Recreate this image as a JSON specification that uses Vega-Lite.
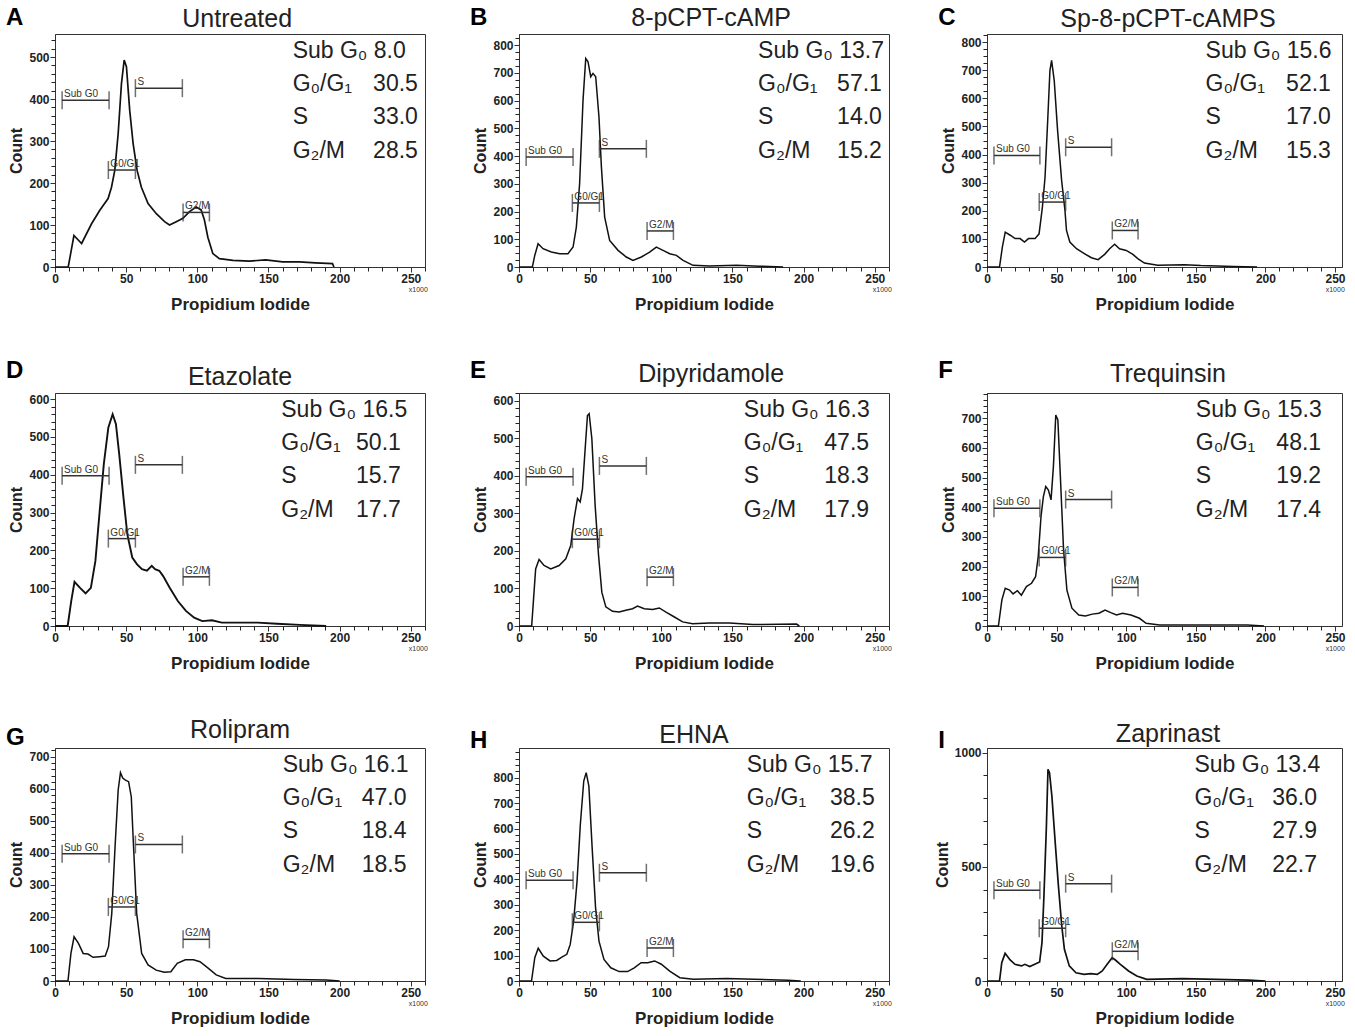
{
  "$schema": "https://vega.github.io/schema/vega-lite/v6.json",
  "background": "white",
  "padding": {"left": 5, "top": 5, "right": 0, "bottom": 2},
  "columns": 3,
  "spacing": {"row": 45, "column": 40},
  "config": {
    "font": "Liberation Sans",
    "view": {"stroke": "#333", "strokeWidth": 1},
    "axis": {"grid": false, "domainColor": "#333", "tickColor": "#333", "tickSize": 5, "labelFont": "Liberation Sans Narrow, Liberation Sans", "labelFontSize": 12, "labelFontWeight": "bold", "labelColor": "#222", "labelPadding": 1, "labelOverlap": false, "titleFont": "Liberation Sans", "titleFontSize": 17, "titleFontWeight": "bold", "titleColor": "#222"},
    "axisX": {"titlePadding": 12, "labelFlush": false},
    "axisY": {"titlePadding": 4, "titleFontSize": 16, "format": "d"},
    "text": {"font": "Liberation Sans", "color": "#222"}
  },
  "datasets": {
    "gates": [
      {"gate": "Sub G0", "x1": 5, "x2": 38, "y": 397},
      {"gate": "S", "x1": 56.5, "x2": 89.5, "y": 426},
      {"gate": "G0/G1", "x1": 37.5, "x2": 56.5, "y": 231},
      {"gate": "G2/M", "x1": 90, "x2": 108.5, "y": 130}
    ],
    "stats": [
      {"panel": "A", "line": 1, "label": "Sub G₀ 8.0", "value": ""},
      {"panel": "A", "line": 2, "label": "G₀/G₁", "value": "30.5"},
      {"panel": "A", "line": 3, "label": "S", "value": "33.0"},
      {"panel": "A", "line": 4, "label": "G₂/M", "value": "28.5"},
      {"panel": "B", "line": 1, "label": "Sub G₀ 13.7", "value": ""},
      {"panel": "B", "line": 2, "label": "G₀/G₁", "value": "57.1"},
      {"panel": "B", "line": 3, "label": "S", "value": "14.0"},
      {"panel": "B", "line": 4, "label": "G₂/M", "value": "15.2"},
      {"panel": "C", "line": 1, "label": "Sub G₀ 15.6", "value": ""},
      {"panel": "C", "line": 2, "label": "G₀/G₁", "value": "52.1"},
      {"panel": "C", "line": 3, "label": "S", "value": "17.0"},
      {"panel": "C", "line": 4, "label": "G₂/M", "value": "15.3"},
      {"panel": "D", "line": 1, "label": "Sub G₀ 16.5", "value": ""},
      {"panel": "D", "line": 2, "label": "G₀/G₁", "value": "50.1"},
      {"panel": "D", "line": 3, "label": "S", "value": "15.7"},
      {"panel": "D", "line": 4, "label": "G₂/M", "value": "17.7"},
      {"panel": "E", "line": 1, "label": "Sub G₀ 16.3", "value": ""},
      {"panel": "E", "line": 2, "label": "G₀/G₁", "value": "47.5"},
      {"panel": "E", "line": 3, "label": "S", "value": "18.3"},
      {"panel": "E", "line": 4, "label": "G₂/M", "value": "17.9"},
      {"panel": "F", "line": 1, "label": "Sub G₀ 15.3", "value": ""},
      {"panel": "F", "line": 2, "label": "G₀/G₁", "value": "48.1"},
      {"panel": "F", "line": 3, "label": "S", "value": "19.2"},
      {"panel": "F", "line": 4, "label": "G₂/M", "value": "17.4"},
      {"panel": "G", "line": 1, "label": "Sub G₀ 16.1", "value": ""},
      {"panel": "G", "line": 2, "label": "G₀/G₁", "value": "47.0"},
      {"panel": "G", "line": 3, "label": "S", "value": "18.4"},
      {"panel": "G", "line": 4, "label": "G₂/M", "value": "18.5"},
      {"panel": "H", "line": 1, "label": "Sub G₀ 15.7", "value": ""},
      {"panel": "H", "line": 2, "label": "G₀/G₁", "value": "38.5"},
      {"panel": "H", "line": 3, "label": "S", "value": "26.2"},
      {"panel": "H", "line": 4, "label": "G₂/M", "value": "19.6"},
      {"panel": "I", "line": 1, "label": "Sub G₀ 13.4", "value": ""},
      {"panel": "I", "line": 2, "label": "G₀/G₁", "value": "36.0"},
      {"panel": "I", "line": 3, "label": "S", "value": "27.9"},
      {"panel": "I", "line": 4, "label": "G₂/M", "value": "22.7"}
    ],
    "untreated": [
      {"pi": 0, "count": 0}, {"pi": 9.3, "count": 0}, {"pi": 13.3, "count": 75}, {"pi": 18.7, "count": 56}, {"pi": 25.7, "count": 103}, {"pi": 31.5, "count": 135}, {"pi": 37.3, "count": 163}, {"pi": 39.7, "count": 190}, {"pi": 42, "count": 230}, {"pi": 44.4, "count": 318}, {"pi": 46.7, "count": 437}, {"pi": 48.6, "count": 493}, {"pi": 50.2, "count": 477}, {"pi": 52.5, "count": 373}, {"pi": 54.9, "count": 294}, {"pi": 57.7, "count": 230}, {"pi": 60.7, "count": 190}, {"pi": 65.4, "count": 151}, {"pi": 71.2, "count": 127}, {"pi": 77, "count": 108}, {"pi": 80.5, "count": 100}, {"pi": 85.2, "count": 108}, {"pi": 89.9, "count": 116}, {"pi": 94.5, "count": 132}, {"pi": 99.2, "count": 143}, {"pi": 102.7, "count": 136}, {"pi": 105, "count": 112}, {"pi": 107.4, "count": 71}, {"pi": 110.9, "count": 32}, {"pi": 115.5, "count": 20}, {"pi": 125, "count": 16}, {"pi": 136.6, "count": 14}, {"pi": 148, "count": 17}, {"pi": 160, "count": 12}, {"pi": 171.6, "count": 12}, {"pi": 183, "count": 10}, {"pi": 195, "count": 8}, {"pi": 196, "count": 0}
    ],
    "cpt": [
      {"pi": 0, "count": 0}, {"pi": 9.4, "count": 0}, {"pi": 11, "count": 40}, {"pi": 13.4, "count": 84}, {"pi": 16.9, "count": 66}, {"pi": 22.7, "count": 54}, {"pi": 28.6, "count": 48}, {"pi": 34.4, "count": 48}, {"pi": 38, "count": 72}, {"pi": 40.3, "count": 144}, {"pi": 42.6, "count": 301}, {"pi": 45, "count": 602}, {"pi": 46.9, "count": 752}, {"pi": 48.5, "count": 740}, {"pi": 50.4, "count": 686}, {"pi": 52, "count": 698}, {"pi": 53.9, "count": 686}, {"pi": 56.2, "count": 541}, {"pi": 57.9, "count": 361}, {"pi": 60.2, "count": 180}, {"pi": 63.7, "count": 96}, {"pi": 69.6, "count": 60}, {"pi": 75.4, "count": 36}, {"pi": 80.1, "count": 24}, {"pi": 86, "count": 36}, {"pi": 91.8, "count": 54}, {"pi": 96.5, "count": 72}, {"pi": 101.2, "count": 60}, {"pi": 105.9, "count": 48}, {"pi": 110.6, "count": 42}, {"pi": 115.3, "count": 24}, {"pi": 122.3, "count": 6}, {"pi": 134, "count": 4}, {"pi": 152.8, "count": 6}, {"pi": 169, "count": 3}, {"pi": 185.6, "count": 0}
    ],
    "sp": [
      {"pi": 0, "count": 0}, {"pi": 9, "count": 0}, {"pi": 11, "count": 70}, {"pi": 13.1, "count": 124}, {"pi": 16.7, "count": 113}, {"pi": 20.2, "count": 101}, {"pi": 23.8, "count": 101}, {"pi": 26.9, "count": 89}, {"pi": 29.8, "count": 101}, {"pi": 34.5, "count": 101}, {"pi": 37.4, "count": 118}, {"pi": 39.8, "count": 213}, {"pi": 41.7, "count": 320}, {"pi": 43.6, "count": 521}, {"pi": 45.2, "count": 699}, {"pi": 46.4, "count": 735}, {"pi": 48.3, "count": 663}, {"pi": 50.7, "count": 486}, {"pi": 53.6, "count": 308}, {"pi": 56, "count": 201}, {"pi": 57.1, "count": 130}, {"pi": 59.5, "count": 89}, {"pi": 64.3, "count": 65}, {"pi": 70.2, "count": 47}, {"pi": 75, "count": 33}, {"pi": 79.8, "count": 26}, {"pi": 84.5, "count": 45}, {"pi": 88.1, "count": 65}, {"pi": 91.7, "count": 81}, {"pi": 95.2, "count": 65}, {"pi": 100, "count": 59}, {"pi": 104.8, "count": 45}, {"pi": 108.3, "count": 30}, {"pi": 113.1, "count": 14}, {"pi": 122.6, "count": 6}, {"pi": 141.7, "count": 8}, {"pi": 153.6, "count": 5}, {"pi": 177, "count": 2}, {"pi": 194, "count": 0}
    ],
    "etazolate": [
      {"pi": 0, "count": 0}, {"pi": 8.9, "count": 0}, {"pi": 11.4, "count": 66}, {"pi": 13.7, "count": 117}, {"pi": 17.6, "count": 101}, {"pi": 21.5, "count": 86}, {"pi": 25.2, "count": 101}, {"pi": 28.4, "count": 172}, {"pi": 31.4, "count": 304}, {"pi": 34.3, "count": 428}, {"pi": 37.5, "count": 525}, {"pi": 40.5, "count": 560}, {"pi": 42.8, "count": 534}, {"pi": 45.1, "count": 455}, {"pi": 48.1, "count": 340}, {"pi": 50.8, "count": 243}, {"pi": 54.3, "count": 181}, {"pi": 57.7, "count": 163}, {"pi": 61.1, "count": 150}, {"pi": 64.6, "count": 146}, {"pi": 68, "count": 159}, {"pi": 70.3, "count": 150}, {"pi": 73.3, "count": 146}, {"pi": 76, "count": 132}, {"pi": 80.6, "count": 101}, {"pi": 86.3, "count": 66}, {"pi": 92, "count": 40}, {"pi": 97.8, "count": 22}, {"pi": 103.5, "count": 13}, {"pi": 110.3, "count": 15}, {"pi": 117.2, "count": 9}, {"pi": 126.4, "count": 9}, {"pi": 142.4, "count": 9}, {"pi": 156, "count": 6}, {"pi": 172, "count": 3}, {"pi": 190.5, "count": 0}
    ],
    "dipyridamole": [
      {"pi": 0, "count": 0}, {"pi": 8.9, "count": 0}, {"pi": 11.7, "count": 152}, {"pi": 14.1, "count": 177}, {"pi": 17.6, "count": 161}, {"pi": 22.3, "count": 152}, {"pi": 28.2, "count": 161}, {"pi": 32.9, "count": 179}, {"pi": 36.4, "count": 215}, {"pi": 38.7, "count": 285}, {"pi": 41.1, "count": 339}, {"pi": 43, "count": 330}, {"pi": 44.6, "count": 365}, {"pi": 46.5, "count": 472}, {"pi": 48.1, "count": 560}, {"pi": 49.3, "count": 565}, {"pi": 51.2, "count": 498}, {"pi": 53.5, "count": 321}, {"pi": 55.9, "count": 188}, {"pi": 58.2, "count": 90}, {"pi": 61, "count": 51}, {"pi": 65.7, "count": 39}, {"pi": 70.4, "count": 37}, {"pi": 75.1, "count": 42}, {"pi": 79.8, "count": 46}, {"pi": 83.3, "count": 53}, {"pi": 88, "count": 46}, {"pi": 93.9, "count": 44}, {"pi": 98.6, "count": 48}, {"pi": 103.3, "count": 37}, {"pi": 109.2, "count": 24}, {"pi": 115, "count": 11}, {"pi": 122, "count": 6}, {"pi": 133.8, "count": 8}, {"pi": 147.9, "count": 8}, {"pi": 164.3, "count": 4}, {"pi": 195, "count": 5}, {"pi": 197, "count": 0}
    ],
    "trequinsin": [
      {"pi": 0, "count": 0}, {"pi": 8.2, "count": 0}, {"pi": 10.7, "count": 88}, {"pi": 13.1, "count": 127}, {"pi": 16.2, "count": 121}, {"pi": 18.7, "count": 108}, {"pi": 21.8, "count": 119}, {"pi": 24.7, "count": 104}, {"pi": 28.3, "count": 133}, {"pi": 32, "count": 144}, {"pi": 34.9, "count": 166}, {"pi": 36.8, "count": 234}, {"pi": 38.8, "count": 369}, {"pi": 40.5, "count": 436}, {"pi": 42.2, "count": 470}, {"pi": 44.1, "count": 458}, {"pi": 46, "count": 425}, {"pi": 47.7, "count": 537}, {"pi": 49.4, "count": 711}, {"pi": 50.9, "count": 694}, {"pi": 52.6, "count": 515}, {"pi": 55, "count": 256}, {"pi": 57.4, "count": 121}, {"pi": 61, "count": 60}, {"pi": 65.9, "count": 37}, {"pi": 70.7, "count": 34}, {"pi": 75.6, "count": 40}, {"pi": 80.4, "count": 43}, {"pi": 84.8, "count": 54}, {"pi": 88.9, "count": 45}, {"pi": 93, "count": 37}, {"pi": 97.4, "count": 43}, {"pi": 103.4, "count": 37}, {"pi": 109.5, "count": 26}, {"pi": 114.3, "count": 9}, {"pi": 124, "count": 3}, {"pi": 150.7, "count": 3}, {"pi": 187, "count": 3}, {"pi": 199, "count": 0}
    ],
    "rolipram": [
      {"pi": 0, "count": 0}, {"pi": 9.1, "count": 0}, {"pi": 11.2, "count": 86}, {"pi": 13.4, "count": 138}, {"pi": 16.4, "count": 118}, {"pi": 19.8, "count": 86}, {"pi": 23.2, "count": 84}, {"pi": 26.7, "count": 74}, {"pi": 31.2, "count": 76}, {"pi": 35.3, "count": 78}, {"pi": 37.6, "count": 107}, {"pi": 39.9, "count": 211}, {"pi": 42.2, "count": 419}, {"pi": 44.4, "count": 596}, {"pi": 46, "count": 650}, {"pi": 47.6, "count": 633}, {"pi": 49.5, "count": 627}, {"pi": 51.7, "count": 622}, {"pi": 53.6, "count": 575}, {"pi": 55.2, "count": 419}, {"pi": 57.4, "count": 211}, {"pi": 60.9, "count": 86}, {"pi": 65.4, "count": 50}, {"pi": 71.1, "count": 34}, {"pi": 76.8, "count": 27}, {"pi": 81.4, "count": 29}, {"pi": 85.9, "count": 55}, {"pi": 91.6, "count": 66}, {"pi": 97.3, "count": 66}, {"pi": 101.9, "count": 60}, {"pi": 107.6, "count": 40}, {"pi": 113.3, "count": 19}, {"pi": 120, "count": 8}, {"pi": 142.9, "count": 8}, {"pi": 168, "count": 5}, {"pi": 190.7, "count": 3}, {"pi": 200, "count": 0}
    ],
    "ehna": [
      {"pi": 0, "count": 0}, {"pi": 8.8, "count": 0}, {"pi": 11.1, "count": 92}, {"pi": 13.5, "count": 129}, {"pi": 17.1, "count": 98}, {"pi": 21.8, "count": 79}, {"pi": 26.5, "count": 81}, {"pi": 30.1, "count": 94}, {"pi": 33.6, "count": 105}, {"pi": 36, "count": 144}, {"pi": 38.4, "count": 236}, {"pi": 40.8, "count": 393}, {"pi": 43.1, "count": 616}, {"pi": 45.5, "count": 787}, {"pi": 47.2, "count": 820}, {"pi": 49.1, "count": 767}, {"pi": 51.4, "count": 525}, {"pi": 53.8, "count": 289}, {"pi": 56.2, "count": 157}, {"pi": 59.7, "count": 85}, {"pi": 64.5, "count": 52}, {"pi": 70.4, "count": 37}, {"pi": 76.3, "count": 37}, {"pi": 81, "count": 52}, {"pi": 85.8, "count": 72}, {"pi": 90.5, "count": 72}, {"pi": 95.3, "count": 79}, {"pi": 100, "count": 66}, {"pi": 105.9, "count": 39}, {"pi": 113, "count": 13}, {"pi": 122.5, "count": 7}, {"pi": 146, "count": 10}, {"pi": 165, "count": 7}, {"pi": 189, "count": 3}, {"pi": 198, "count": 0}
    ],
    "zaprinast": [
      {"pi": 0, "count": 0}, {"pi": 9, "count": 0}, {"pi": 10.6, "count": 80}, {"pi": 13, "count": 121}, {"pi": 16.6, "count": 92}, {"pi": 20.1, "count": 73}, {"pi": 24.8, "count": 66}, {"pi": 27.2, "count": 73}, {"pi": 30.7, "count": 63}, {"pi": 34.3, "count": 73}, {"pi": 37.8, "count": 83}, {"pi": 39.5, "count": 168}, {"pi": 40.9, "count": 372}, {"pi": 42.6, "count": 664}, {"pi": 43.8, "count": 927}, {"pi": 44.9, "count": 912}, {"pi": 46.6, "count": 810}, {"pi": 49, "count": 606}, {"pi": 51.3, "count": 416}, {"pi": 53.7, "count": 241}, {"pi": 55.6, "count": 139}, {"pi": 59.1, "count": 66}, {"pi": 63.9, "count": 36}, {"pi": 69.8, "count": 29}, {"pi": 74.5, "count": 32}, {"pi": 79.2, "count": 29}, {"pi": 82.8, "count": 44}, {"pi": 86.3, "count": 73}, {"pi": 89.9, "count": 102}, {"pi": 92.2, "count": 92}, {"pi": 95.8, "count": 73}, {"pi": 101.7, "count": 44}, {"pi": 107.6, "count": 22}, {"pi": 114.7, "count": 7}, {"pi": 140.7, "count": 10}, {"pi": 164.4, "count": 7}, {"pi": 188, "count": 4}, {"pi": 200, "count": 0}
    ]
  },
  "concat": [
    {
      "width": 370, "height": 233,
      "layer": [
        {"layer": [
          {"data": {"name": "untreated"}, "mark": {"type": "line", "color": "#111", "strokeWidth": 1.7},
           "encoding": {
             "x": {"field": "pi", "type": "quantitative", "scale": {"domain": [0, 260], "nice": false}, "axis": {"orient": "bottom", "title": "Propidium Iodide", "values": [0, 50, 100, 150, 200, 250]}},
             "y": {"field": "count", "type": "quantitative", "scale": {"domain": [0, 555], "nice": false}, "axis": {"orient": "left", "title": "Count", "values": [0, 100, 200, 300, 400, 500]}}}},
          {"data": {"name": "gates"}, "mark": {"type": "rule", "color": "#333", "strokeWidth": 1.5},
           "encoding": {
             "x": {"field": "x1", "type": "quantitative", "axis": {"orient": "bottom", "title": null, "labels": false, "domain": false, "tickSize": 4, "tickColor": "#222", "values": [10,20,30,40,60,70,80,90,110,120,130,140,160,170,180,190,210,220,230,240,260]}},
             "x2": {"field": "x2"},
             "y": {"field": "y", "type": "quantitative", "axis": {"orient": "left", "title": null, "labels": false, "domain": false, "tickSize": 4, "tickColor": "#222", "values": [20,40,60,80,120,140,160,180,220,240,260,280,320,340,360,380,420,440,460,480,520,540]}}}},
          {"data": {"name": "gates"}, "transform": [{"fold": ["x1", "x2"], "as": ["end", "pos"]}], "mark": {"type": "tick", "orient": "vertical", "size": 18, "thickness": 1.5, "color": "#333"},
           "encoding": {"x": {"field": "pos", "type": "quantitative", "axis": null}, "y": {"field": "y", "type": "quantitative", "axis": null}}},
          {"data": {"name": "gates"}, "mark": {"type": "text", "align": "left", "baseline": "bottom", "dx": 2, "dy": -1, "fontSize": 10, "color": "#333"},
           "encoding": {"x": {"field": "x1", "type": "quantitative", "axis": null}, "y": {"field": "y", "type": "quantitative", "axis": null}, "text": {"field": "gate"}}},
          {"data": {"values": [{"letter": "A"}]}, "mark": {"type": "text", "align": "left", "baseline": "alphabetic", "fontSize": 24, "fontWeight": "bold", "color": "#000"},
           "encoding": {"x": {"datum": -34.5, "type": "quantitative", "axis": null}, "y": {"datum": 576, "type": "quantitative", "axis": null}, "text": {"field": "letter"}}},
          {"data": {"values": [{"name": "Untreated"}]}, "mark": {"type": "text", "align": "center", "baseline": "alphabetic", "fontSize": 25},
           "encoding": {"x": {"datum": 128, "type": "quantitative", "axis": null}, "y": {"datum": 572, "type": "quantitative", "axis": null}, "text": {"field": "name"}}},
          {"data": {"values": [{"unit": "x1000"}]}, "mark": {"type": "text", "align": "right", "baseline": "bottom", "fontSize": 7, "color": "#333"},
           "encoding": {"x": {"datum": 262, "type": "quantitative", "axis": null}, "y": {"datum": -62, "type": "quantitative", "axis": null}, "text": {"field": "unit"}}}
        ], "resolve": {"axis": {"x": "independent", "y": "independent"}}},
        {"data": {"name": "stats"}, "transform": [{"filter": "datum.panel === 'A'"}], "layer": [
          {"mark": {"type": "text", "align": "left", "fontSize": 23},
           "encoding": {"x": {"datum": 167, "type": "quantitative", "axis": null}, "y": {"field": "line", "type": "ordinal", "scale": {"domain": [1, 2, 3, 4, 5, 6, 7]}, "axis": null}, "text": {"field": "label"}}},
          {"mark": {"type": "text", "align": "right", "fontSize": 23},
           "encoding": {"x": {"datum": 255, "type": "quantitative", "axis": null}, "y": {"field": "line", "type": "ordinal", "axis": null}, "text": {"field": "value"}}}
        ]}
      ],
      "resolve": {"scale": {"y": "independent"}}
    },
    {
      "width": 370, "height": 233,
      "layer": [
        {"layer": [
          {"data": {"name": "cpt"}, "mark": {"type": "line", "color": "#111", "strokeWidth": 1.5},
           "encoding": {
             "x": {"field": "pi", "type": "quantitative", "scale": {"domain": [0, 260], "nice": false}, "axis": {"orient": "bottom", "title": "Propidium Iodide", "values": [0, 50, 100, 150, 200, 250]}},
             "y": {"field": "count", "type": "quantitative", "scale": {"domain": [0, 840], "nice": false}, "axis": {"orient": "left", "title": "Count", "values": [0, 100, 200, 300, 400, 500, 600, 700, 800]}}}},
          {"data": {"name": "gates"}, "mark": {"type": "rule", "color": "#333", "strokeWidth": 1.5},
           "encoding": {
             "x": {"field": "x1", "type": "quantitative", "axis": {"orient": "bottom", "title": null, "labels": false, "domain": false, "tickSize": 4, "tickColor": "#222", "values": [10,20,30,40,60,70,80,90,110,120,130,140,160,170,180,190,210,220,230,240,260]}},
             "x2": {"field": "x2"},
             "y": {"field": "y", "type": "quantitative", "axis": {"orient": "left", "title": null, "labels": false, "domain": false, "tickSize": 4, "tickColor": "#222", "values": [25,50,75,125,150,175,225,250,275,325,350,375,425,450,475,525,550,575,625,650,675,725,750,775,825]}}}},
          {"data": {"name": "gates"}, "transform": [{"fold": ["x1", "x2"], "as": ["end", "pos"]}], "mark": {"type": "tick", "orient": "vertical", "size": 18, "thickness": 1.5, "color": "#333"},
           "encoding": {"x": {"field": "pos", "type": "quantitative", "axis": null}, "y": {"field": "y", "type": "quantitative", "axis": null}}},
          {"data": {"name": "gates"}, "mark": {"type": "text", "align": "left", "baseline": "bottom", "dx": 2, "dy": -1, "fontSize": 10, "color": "#333"},
           "encoding": {"x": {"field": "x1", "type": "quantitative", "axis": null}, "y": {"field": "y", "type": "quantitative", "axis": null}, "text": {"field": "gate"}}},
          {"data": {"values": [{"letter": "B"}]}, "mark": {"type": "text", "align": "left", "baseline": "alphabetic", "fontSize": 24, "fontWeight": "bold", "color": "#000"},
           "encoding": {"x": {"datum": -34.5, "type": "quantitative", "axis": null}, "y": {"datum": 872, "type": "quantitative", "axis": null}, "text": {"field": "letter"}}},
          {"data": {"values": [{"name": "8-pCPT-cAMP"}]}, "mark": {"type": "text", "align": "center", "baseline": "alphabetic", "fontSize": 25},
           "encoding": {"x": {"datum": 135, "type": "quantitative", "axis": null}, "y": {"datum": 869, "type": "quantitative", "axis": null}, "text": {"field": "name"}}},
          {"data": {"values": [{"unit": "x1000"}]}, "mark": {"type": "text", "align": "right", "baseline": "bottom", "fontSize": 7, "color": "#333"},
           "encoding": {"x": {"datum": 262, "type": "quantitative", "axis": null}, "y": {"datum": -94, "type": "quantitative", "axis": null}, "text": {"field": "unit"}}}
        ], "resolve": {"axis": {"x": "independent", "y": "independent"}}},
        {"data": {"name": "stats"}, "transform": [{"filter": "datum.panel === 'B'"}], "layer": [
          {"mark": {"type": "text", "align": "left", "fontSize": 23},
           "encoding": {"x": {"datum": 168, "type": "quantitative", "axis": null}, "y": {"field": "line", "type": "ordinal", "scale": {"domain": [1, 2, 3, 4, 5, 6, 7]}, "axis": null}, "text": {"field": "label"}}},
          {"mark": {"type": "text", "align": "right", "fontSize": 23},
           "encoding": {"x": {"datum": 255, "type": "quantitative", "axis": null}, "y": {"field": "line", "type": "ordinal", "axis": null}, "text": {"field": "value"}}}
        ]}
      ],
      "resolve": {"scale": {"y": "independent"}}
    },
    {
      "width": 355, "height": 233,
      "layer": [
        {"layer": [
          {"data": {"name": "sp"}, "mark": {"type": "line", "color": "#111", "strokeWidth": 1.5},
           "encoding": {
             "x": {"field": "pi", "type": "quantitative", "scale": {"domain": [0, 255], "nice": false}, "axis": {"orient": "bottom", "title": "Propidium Iodide", "values": [0, 50, 100, 150, 200, 250]}},
             "y": {"field": "count", "type": "quantitative", "scale": {"domain": [0, 829], "nice": false}, "axis": {"orient": "left", "title": "Count", "values": [0, 100, 200, 300, 400, 500, 600, 700, 800]}}}},
          {"data": {"name": "gates"}, "mark": {"type": "rule", "color": "#333", "strokeWidth": 1.5},
           "encoding": {
             "x": {"field": "x1", "type": "quantitative", "axis": {"orient": "bottom", "title": null, "labels": false, "domain": false, "tickSize": 4, "tickColor": "#222", "values": [10,20,30,40,60,70,80,90,110,120,130,140,160,170,180,190,210,220,230,240]}},
             "x2": {"field": "x2"},
             "y": {"field": "y", "type": "quantitative", "axis": {"orient": "left", "title": null, "labels": false, "domain": false, "tickSize": 4, "tickColor": "#222", "values": [25,50,75,125,150,175,225,250,275,325,350,375,425,450,475,525,550,575,625,650,675,725,750,775,825]}}}},
          {"data": {"name": "gates"}, "transform": [{"fold": ["x1", "x2"], "as": ["end", "pos"]}], "mark": {"type": "tick", "orient": "vertical", "size": 18, "thickness": 1.5, "color": "#333"},
           "encoding": {"x": {"field": "pos", "type": "quantitative", "axis": null}, "y": {"field": "y", "type": "quantitative", "axis": null}}},
          {"data": {"name": "gates"}, "mark": {"type": "text", "align": "left", "baseline": "bottom", "dx": 2, "dy": -1, "fontSize": 10, "color": "#333"},
           "encoding": {"x": {"field": "x1", "type": "quantitative", "axis": null}, "y": {"field": "y", "type": "quantitative", "axis": null}, "text": {"field": "gate"}}},
          {"data": {"values": [{"letter": "C"}]}, "mark": {"type": "text", "align": "left", "baseline": "alphabetic", "fontSize": 24, "fontWeight": "bold", "color": "#000"},
           "encoding": {"x": {"datum": -35, "type": "quantitative", "axis": null}, "y": {"datum": 861, "type": "quantitative", "axis": null}, "text": {"field": "letter"}}},
          {"data": {"values": [{"name": "Sp-8-pCPT-cAMPS"}]}, "mark": {"type": "text", "align": "center", "baseline": "alphabetic", "fontSize": 25},
           "encoding": {"x": {"datum": 130, "type": "quantitative", "axis": null}, "y": {"datum": 854, "type": "quantitative", "axis": null}, "text": {"field": "name"}}},
          {"data": {"values": [{"unit": "x1000"}]}, "mark": {"type": "text", "align": "right", "baseline": "bottom", "fontSize": 7, "color": "#333"},
           "encoding": {"x": {"datum": 257, "type": "quantitative", "axis": null}, "y": {"datum": -93, "type": "quantitative", "axis": null}, "text": {"field": "unit"}}}
        ], "resolve": {"axis": {"x": "independent", "y": "independent"}}},
        {"data": {"name": "stats"}, "transform": [{"filter": "datum.panel === 'C'"}], "layer": [
          {"mark": {"type": "text", "align": "left", "fontSize": 23},
           "encoding": {"x": {"datum": 157, "type": "quantitative", "axis": null}, "y": {"field": "line", "type": "ordinal", "scale": {"domain": [1, 2, 3, 4, 5, 6, 7]}, "axis": null}, "text": {"field": "label"}}},
          {"mark": {"type": "text", "align": "right", "fontSize": 23},
           "encoding": {"x": {"datum": 247, "type": "quantitative", "axis": null}, "y": {"field": "line", "type": "ordinal", "axis": null}, "text": {"field": "value"}}}
        ]}
      ],
      "resolve": {"scale": {"y": "independent"}}
    },
    {
      "width": 370, "height": 233,
      "layer": [
        {"layer": [
          {"data": {"name": "etazolate"}, "mark": {"type": "line", "color": "#111", "strokeWidth": 1.9},
           "encoding": {
             "x": {"field": "pi", "type": "quantitative", "scale": {"domain": [0, 260], "nice": false}, "axis": {"orient": "bottom", "title": "Propidium Iodide", "values": [0, 50, 100, 150, 200, 250]}},
             "y": {"field": "count", "type": "quantitative", "scale": {"domain": [0, 616], "nice": false}, "axis": {"orient": "left", "title": "Count", "values": [0, 100, 200, 300, 400, 500, 600]}}}},
          {"data": {"name": "gates"}, "mark": {"type": "rule", "color": "#333", "strokeWidth": 1.5},
           "encoding": {
             "x": {"field": "x1", "type": "quantitative", "axis": {"orient": "bottom", "title": null, "labels": false, "domain": false, "tickSize": 4, "tickColor": "#222", "values": [10,20,30,40,60,70,80,90,110,120,130,140,160,170,180,190,210,220,230,240,260]}},
             "x2": {"field": "x2"},
             "y": {"field": "y", "type": "quantitative", "axis": {"orient": "left", "title": null, "labels": false, "domain": false, "tickSize": 4, "tickColor": "#222", "values": [20,40,60,80,120,140,160,180,220,240,260,280,320,340,360,380,420,440,460,480,520,540,560,580]}}}},
          {"data": {"name": "gates"}, "transform": [{"fold": ["x1", "x2"], "as": ["end", "pos"]}], "mark": {"type": "tick", "orient": "vertical", "size": 18, "thickness": 1.5, "color": "#333"},
           "encoding": {"x": {"field": "pos", "type": "quantitative", "axis": null}, "y": {"field": "y", "type": "quantitative", "axis": null}}},
          {"data": {"name": "gates"}, "mark": {"type": "text", "align": "left", "baseline": "bottom", "dx": 2, "dy": -1, "fontSize": 10, "color": "#333"},
           "encoding": {"x": {"field": "x1", "type": "quantitative", "axis": null}, "y": {"field": "y", "type": "quantitative", "axis": null}, "text": {"field": "gate"}}},
          {"data": {"values": [{"letter": "D"}]}, "mark": {"type": "text", "align": "left", "baseline": "alphabetic", "fontSize": 24, "fontWeight": "bold", "color": "#000"},
           "encoding": {"x": {"datum": -34.5, "type": "quantitative", "axis": null}, "y": {"datum": 656, "type": "quantitative", "axis": null}, "text": {"field": "letter"}}},
          {"data": {"values": [{"name": "Etazolate"}]}, "mark": {"type": "text", "align": "center", "baseline": "alphabetic", "fontSize": 25},
           "encoding": {"x": {"datum": 130, "type": "quantitative", "axis": null}, "y": {"datum": 637, "type": "quantitative", "axis": null}, "text": {"field": "name"}}},
          {"data": {"values": [{"unit": "x1000"}]}, "mark": {"type": "text", "align": "right", "baseline": "bottom", "fontSize": 7, "color": "#333"},
           "encoding": {"x": {"datum": 262, "type": "quantitative", "axis": null}, "y": {"datum": -69, "type": "quantitative", "axis": null}, "text": {"field": "unit"}}}
        ], "resolve": {"axis": {"x": "independent", "y": "independent"}}},
        {"data": {"name": "stats"}, "transform": [{"filter": "datum.panel === 'D'"}], "layer": [
          {"mark": {"type": "text", "align": "left", "fontSize": 23},
           "encoding": {"x": {"datum": 159, "type": "quantitative", "axis": null}, "y": {"field": "line", "type": "ordinal", "scale": {"domain": [1, 2, 3, 4, 5, 6, 7]}, "axis": null}, "text": {"field": "label"}}},
          {"mark": {"type": "text", "align": "right", "fontSize": 23},
           "encoding": {"x": {"datum": 243, "type": "quantitative", "axis": null}, "y": {"field": "line", "type": "ordinal", "axis": null}, "text": {"field": "value"}}}
        ]}
      ],
      "resolve": {"scale": {"y": "independent"}}
    },
    {
      "width": 370, "height": 233,
      "layer": [
        {"layer": [
          {"data": {"name": "dipyridamole"}, "mark": {"type": "line", "color": "#111", "strokeWidth": 1.5},
           "encoding": {
             "x": {"field": "pi", "type": "quantitative", "scale": {"domain": [0, 260], "nice": false}, "axis": {"orient": "bottom", "title": "Propidium Iodide", "values": [0, 50, 100, 150, 200, 250]}},
             "y": {"field": "count", "type": "quantitative", "scale": {"domain": [0, 620], "nice": false}, "axis": {"orient": "left", "title": "Count", "values": [0, 100, 200, 300, 400, 500, 600]}}}},
          {"data": {"name": "gates"}, "mark": {"type": "rule", "color": "#333", "strokeWidth": 1.5},
           "encoding": {
             "x": {"field": "x1", "type": "quantitative", "axis": {"orient": "bottom", "title": null, "labels": false, "domain": false, "tickSize": 4, "tickColor": "#222", "values": [10,20,30,40,60,70,80,90,110,120,130,140,160,170,180,190,210,220,230,240,260]}},
             "x2": {"field": "x2"},
             "y": {"field": "y", "type": "quantitative", "axis": {"orient": "left", "title": null, "labels": false, "domain": false, "tickSize": 4, "tickColor": "#222", "values": [20,40,60,80,120,140,160,180,220,240,260,280,320,340,360,380,420,440,460,480,520,540,560,580,620]}}}},
          {"data": {"name": "gates"}, "transform": [{"fold": ["x1", "x2"], "as": ["end", "pos"]}], "mark": {"type": "tick", "orient": "vertical", "size": 18, "thickness": 1.5, "color": "#333"},
           "encoding": {"x": {"field": "pos", "type": "quantitative", "axis": null}, "y": {"field": "y", "type": "quantitative", "axis": null}}},
          {"data": {"name": "gates"}, "mark": {"type": "text", "align": "left", "baseline": "bottom", "dx": 2, "dy": -1, "fontSize": 10, "color": "#333"},
           "encoding": {"x": {"field": "x1", "type": "quantitative", "axis": null}, "y": {"field": "y", "type": "quantitative", "axis": null}, "text": {"field": "gate"}}},
          {"data": {"values": [{"letter": "E"}]}, "mark": {"type": "text", "align": "left", "baseline": "alphabetic", "fontSize": 24, "fontWeight": "bold", "color": "#000"},
           "encoding": {"x": {"datum": -34.5, "type": "quantitative", "axis": null}, "y": {"datum": 660, "type": "quantitative", "axis": null}, "text": {"field": "letter"}}},
          {"data": {"values": [{"name": "Dipyridamole"}]}, "mark": {"type": "text", "align": "center", "baseline": "alphabetic", "fontSize": 25},
           "encoding": {"x": {"datum": 135, "type": "quantitative", "axis": null}, "y": {"datum": 649, "type": "quantitative", "axis": null}, "text": {"field": "name"}}},
          {"data": {"values": [{"unit": "x1000"}]}, "mark": {"type": "text", "align": "right", "baseline": "bottom", "fontSize": 7, "color": "#333"},
           "encoding": {"x": {"datum": 262, "type": "quantitative", "axis": null}, "y": {"datum": -69, "type": "quantitative", "axis": null}, "text": {"field": "unit"}}}
        ], "resolve": {"axis": {"x": "independent", "y": "independent"}}},
        {"data": {"name": "stats"}, "transform": [{"filter": "datum.panel === 'E'"}], "layer": [
          {"mark": {"type": "text", "align": "left", "fontSize": 23},
           "encoding": {"x": {"datum": 158, "type": "quantitative", "axis": null}, "y": {"field": "line", "type": "ordinal", "scale": {"domain": [1, 2, 3, 4, 5, 6, 7]}, "axis": null}, "text": {"field": "label"}}},
          {"mark": {"type": "text", "align": "right", "fontSize": 23},
           "encoding": {"x": {"datum": 246, "type": "quantitative", "axis": null}, "y": {"field": "line", "type": "ordinal", "axis": null}, "text": {"field": "value"}}}
        ]}
      ],
      "resolve": {"scale": {"y": "independent"}}
    },
    {
      "width": 355, "height": 233,
      "layer": [
        {"layer": [
          {"data": {"name": "trequinsin"}, "mark": {"type": "line", "color": "#111", "strokeWidth": 1.5},
           "encoding": {
             "x": {"field": "pi", "type": "quantitative", "scale": {"domain": [0, 255], "nice": false}, "axis": {"orient": "bottom", "title": "Propidium Iodide", "values": [0, 50, 100, 150, 200, 250]}},
             "y": {"field": "count", "type": "quantitative", "scale": {"domain": [0, 785], "nice": false}, "axis": {"orient": "left", "title": "Count", "values": [0, 100, 200, 300, 400, 500, 600, 700]}}}},
          {"data": {"name": "gates"}, "mark": {"type": "rule", "color": "#333", "strokeWidth": 1.5},
           "encoding": {
             "x": {"field": "x1", "type": "quantitative", "axis": {"orient": "bottom", "title": null, "labels": false, "domain": false, "tickSize": 4, "tickColor": "#222", "values": [10,20,30,40,60,70,80,90,110,120,130,140,160,170,180,190,210,220,230,240]}},
             "x2": {"field": "x2"},
             "y": {"field": "y", "type": "quantitative", "axis": {"orient": "left", "title": null, "labels": false, "domain": false, "tickSize": 4, "tickColor": "#222", "values": [20,40,60,80,120,140,160,180,220,240,260,280,320,340,360,380,420,440,460,480,520,540,560,580,620,640,660,680,720,740,760,780]}}}},
          {"data": {"name": "gates"}, "transform": [{"fold": ["x1", "x2"], "as": ["end", "pos"]}], "mark": {"type": "tick", "orient": "vertical", "size": 18, "thickness": 1.5, "color": "#333"},
           "encoding": {"x": {"field": "pos", "type": "quantitative", "axis": null}, "y": {"field": "y", "type": "quantitative", "axis": null}}},
          {"data": {"name": "gates"}, "mark": {"type": "text", "align": "left", "baseline": "bottom", "dx": 2, "dy": -1, "fontSize": 10, "color": "#333"},
           "encoding": {"x": {"field": "x1", "type": "quantitative", "axis": null}, "y": {"field": "y", "type": "quantitative", "axis": null}, "text": {"field": "gate"}}},
          {"data": {"values": [{"letter": "F"}]}, "mark": {"type": "text", "align": "left", "baseline": "alphabetic", "fontSize": 24, "fontWeight": "bold", "color": "#000"},
           "encoding": {"x": {"datum": -35, "type": "quantitative", "axis": null}, "y": {"datum": 836, "type": "quantitative", "axis": null}, "text": {"field": "letter"}}},
          {"data": {"values": [{"name": "Trequinsin"}]}, "mark": {"type": "text", "align": "center", "baseline": "alphabetic", "fontSize": 25},
           "encoding": {"x": {"datum": 130, "type": "quantitative", "axis": null}, "y": {"datum": 822, "type": "quantitative", "axis": null}, "text": {"field": "name"}}},
          {"data": {"values": [{"unit": "x1000"}]}, "mark": {"type": "text", "align": "right", "baseline": "bottom", "fontSize": 7, "color": "#333"},
           "encoding": {"x": {"datum": 257, "type": "quantitative", "axis": null}, "y": {"datum": -88, "type": "quantitative", "axis": null}, "text": {"field": "unit"}}}
        ], "resolve": {"axis": {"x": "independent", "y": "independent"}}},
        {"data": {"name": "stats"}, "transform": [{"filter": "datum.panel === 'F'"}], "layer": [
          {"mark": {"type": "text", "align": "left", "fontSize": 23},
           "encoding": {"x": {"datum": 150, "type": "quantitative", "axis": null}, "y": {"field": "line", "type": "ordinal", "scale": {"domain": [1, 2, 3, 4, 5, 6, 7]}, "axis": null}, "text": {"field": "label"}}},
          {"mark": {"type": "text", "align": "right", "fontSize": 23},
           "encoding": {"x": {"datum": 240, "type": "quantitative", "axis": null}, "y": {"field": "line", "type": "ordinal", "axis": null}, "text": {"field": "value"}}}
        ]}
      ],
      "resolve": {"scale": {"y": "independent"}}
    },
    {
      "width": 370, "height": 233,
      "layer": [
        {"layer": [
          {"data": {"name": "rolipram"}, "mark": {"type": "line", "color": "#111", "strokeWidth": 1.5},
           "encoding": {
             "x": {"field": "pi", "type": "quantitative", "scale": {"domain": [0, 260], "nice": false}, "axis": {"orient": "bottom", "title": "Propidium Iodide", "values": [0, 50, 100, 150, 200, 250]}},
             "y": {"field": "count", "type": "quantitative", "scale": {"domain": [0, 727], "nice": false}, "axis": {"orient": "left", "title": "Count", "values": [0, 100, 200, 300, 400, 500, 600, 700]}}}},
          {"data": {"name": "gates"}, "mark": {"type": "rule", "color": "#333", "strokeWidth": 1.5},
           "encoding": {
             "x": {"field": "x1", "type": "quantitative", "axis": {"orient": "bottom", "title": null, "labels": false, "domain": false, "tickSize": 4, "tickColor": "#222", "values": [10,20,30,40,60,70,80,90,110,120,130,140,160,170,180,190,210,220,230,240,260]}},
             "x2": {"field": "x2"},
             "y": {"field": "y", "type": "quantitative", "axis": {"orient": "left", "title": null, "labels": false, "domain": false, "tickSize": 4, "tickColor": "#222", "values": [20,40,60,80,120,140,160,180,220,240,260,280,320,340,360,380,420,440,460,480,520,540,560,580,620,640,660,680,720]}}}},
          {"data": {"name": "gates"}, "transform": [{"fold": ["x1", "x2"], "as": ["end", "pos"]}], "mark": {"type": "tick", "orient": "vertical", "size": 18, "thickness": 1.5, "color": "#333"},
           "encoding": {"x": {"field": "pos", "type": "quantitative", "axis": null}, "y": {"field": "y", "type": "quantitative", "axis": null}}},
          {"data": {"name": "gates"}, "mark": {"type": "text", "align": "left", "baseline": "bottom", "dx": 2, "dy": -1, "fontSize": 10, "color": "#333"},
           "encoding": {"x": {"field": "x1", "type": "quantitative", "axis": null}, "y": {"field": "y", "type": "quantitative", "axis": null}, "text": {"field": "gate"}}},
          {"data": {"values": [{"letter": "G"}]}, "mark": {"type": "text", "align": "left", "baseline": "alphabetic", "fontSize": 24, "fontWeight": "bold", "color": "#000"},
           "encoding": {"x": {"datum": -34.5, "type": "quantitative", "axis": null}, "y": {"datum": 737, "type": "quantitative", "axis": null}, "text": {"field": "letter"}}},
          {"data": {"values": [{"name": "Rolipram"}]}, "mark": {"type": "text", "align": "center", "baseline": "alphabetic", "fontSize": 25},
           "encoding": {"x": {"datum": 130, "type": "quantitative", "axis": null}, "y": {"datum": 758, "type": "quantitative", "axis": null}, "text": {"field": "name"}}},
          {"data": {"values": [{"unit": "x1000"}]}, "mark": {"type": "text", "align": "right", "baseline": "bottom", "fontSize": 7, "color": "#333"},
           "encoding": {"x": {"datum": 262, "type": "quantitative", "axis": null}, "y": {"datum": -81, "type": "quantitative", "axis": null}, "text": {"field": "unit"}}}
        ], "resolve": {"axis": {"x": "independent", "y": "independent"}}},
        {"data": {"name": "stats"}, "transform": [{"filter": "datum.panel === 'G'"}], "layer": [
          {"mark": {"type": "text", "align": "left", "fontSize": 23},
           "encoding": {"x": {"datum": 160, "type": "quantitative", "axis": null}, "y": {"field": "line", "type": "ordinal", "scale": {"domain": [1, 2, 3, 4, 5, 6, 7]}, "axis": null}, "text": {"field": "label"}}},
          {"mark": {"type": "text", "align": "right", "fontSize": 23},
           "encoding": {"x": {"datum": 247, "type": "quantitative", "axis": null}, "y": {"field": "line", "type": "ordinal", "axis": null}, "text": {"field": "value"}}}
        ]}
      ],
      "resolve": {"scale": {"y": "independent"}}
    },
    {
      "width": 370, "height": 233,
      "layer": [
        {"layer": [
          {"data": {"name": "ehna"}, "mark": {"type": "line", "color": "#111", "strokeWidth": 1.5},
           "encoding": {
             "x": {"field": "pi", "type": "quantitative", "scale": {"domain": [0, 260], "nice": false}, "axis": {"orient": "bottom", "title": "Propidium Iodide", "values": [0, 50, 100, 150, 200, 250]}},
             "y": {"field": "count", "type": "quantitative", "scale": {"domain": [0, 917], "nice": false}, "axis": {"orient": "left", "title": "Count", "values": [0, 100, 200, 300, 400, 500, 600, 700, 800]}}}},
          {"data": {"name": "gates"}, "mark": {"type": "rule", "color": "#333", "strokeWidth": 1.5},
           "encoding": {
             "x": {"field": "x1", "type": "quantitative", "axis": {"orient": "bottom", "title": null, "labels": false, "domain": false, "tickSize": 4, "tickColor": "#222", "values": [10,20,30,40,60,70,80,90,110,120,130,140,160,170,180,190,210,220,230,240,260]}},
             "x2": {"field": "x2"},
             "y": {"field": "y", "type": "quantitative", "axis": {"orient": "left", "title": null, "labels": false, "domain": false, "tickSize": 4, "tickColor": "#222", "values": [25,50,75,125,150,175,225,250,275,325,350,375,425,450,475,525,550,575,625,650,675,725,750,775,825,850,875,900]}}}},
          {"data": {"name": "gates"}, "transform": [{"fold": ["x1", "x2"], "as": ["end", "pos"]}], "mark": {"type": "tick", "orient": "vertical", "size": 18, "thickness": 1.5, "color": "#333"},
           "encoding": {"x": {"field": "pos", "type": "quantitative", "axis": null}, "y": {"field": "y", "type": "quantitative", "axis": null}}},
          {"data": {"name": "gates"}, "mark": {"type": "text", "align": "left", "baseline": "bottom", "dx": 2, "dy": -1, "fontSize": 10, "color": "#333"},
           "encoding": {"x": {"field": "x1", "type": "quantitative", "axis": null}, "y": {"field": "y", "type": "quantitative", "axis": null}, "text": {"field": "gate"}}},
          {"data": {"values": [{"letter": "H"}]}, "mark": {"type": "text", "align": "left", "baseline": "alphabetic", "fontSize": 24, "fontWeight": "bold", "color": "#000"},
           "encoding": {"x": {"datum": -34.5, "type": "quantitative", "axis": null}, "y": {"datum": 917, "type": "quantitative", "axis": null}, "text": {"field": "letter"}}},
          {"data": {"values": [{"name": "EHNA"}]}, "mark": {"type": "text", "align": "center", "baseline": "alphabetic", "fontSize": 25},
           "encoding": {"x": {"datum": 123, "type": "quantitative", "axis": null}, "y": {"datum": 937, "type": "quantitative", "axis": null}, "text": {"field": "name"}}},
          {"data": {"values": [{"unit": "x1000"}]}, "mark": {"type": "text", "align": "right", "baseline": "bottom", "fontSize": 7, "color": "#333"},
           "encoding": {"x": {"datum": 262, "type": "quantitative", "axis": null}, "y": {"datum": -102, "type": "quantitative", "axis": null}, "text": {"field": "unit"}}}
        ], "resolve": {"axis": {"x": "independent", "y": "independent"}}},
        {"data": {"name": "stats"}, "transform": [{"filter": "datum.panel === 'H'"}], "layer": [
          {"mark": {"type": "text", "align": "left", "fontSize": 23},
           "encoding": {"x": {"datum": 160, "type": "quantitative", "axis": null}, "y": {"field": "line", "type": "ordinal", "scale": {"domain": [1, 2, 3, 4, 5, 6, 7]}, "axis": null}, "text": {"field": "label"}}},
          {"mark": {"type": "text", "align": "right", "fontSize": 23},
           "encoding": {"x": {"datum": 250, "type": "quantitative", "axis": null}, "y": {"field": "line", "type": "ordinal", "axis": null}, "text": {"field": "value"}}}
        ]}
      ],
      "resolve": {"scale": {"y": "independent"}}
    },
    {
      "width": 355, "height": 233,
      "layer": [
        {"layer": [
          {"data": {"name": "zaprinast"}, "mark": {"type": "line", "color": "#111", "strokeWidth": 1.7},
           "encoding": {
             "x": {"field": "pi", "type": "quantitative", "scale": {"domain": [0, 255], "nice": false}, "axis": {"orient": "bottom", "title": "Propidium Iodide", "values": [0, 50, 100, 150, 200, 250]}},
             "y": {"field": "count", "type": "quantitative", "scale": {"domain": [0, 1020], "nice": false}, "axis": {"orient": "left", "title": "Count", "values": [0, 500, 1000]}}}},
          {"data": {"name": "gates"}, "mark": {"type": "rule", "color": "#333", "strokeWidth": 1.5},
           "encoding": {
             "x": {"field": "x1", "type": "quantitative", "axis": {"orient": "bottom", "title": null, "labels": false, "domain": false, "tickSize": 4, "tickColor": "#222", "values": [10,20,30,40,60,70,80,90,110,120,130,140,160,170,180,190,210,220,230,240]}},
             "x2": {"field": "x2"},
             "y": {"field": "y", "type": "quantitative", "axis": {"orient": "left", "title": null, "labels": false, "domain": false, "tickSize": 4, "tickColor": "#222", "values": [100,200,300,400,600,700,800,900]}}}},
          {"data": {"name": "gates"}, "transform": [{"fold": ["x1", "x2"], "as": ["end", "pos"]}], "mark": {"type": "tick", "orient": "vertical", "size": 18, "thickness": 1.5, "color": "#333"},
           "encoding": {"x": {"field": "pos", "type": "quantitative", "axis": null}, "y": {"field": "y", "type": "quantitative", "axis": null}}},
          {"data": {"name": "gates"}, "mark": {"type": "text", "align": "left", "baseline": "bottom", "dx": 2, "dy": -1, "fontSize": 10, "color": "#333"},
           "encoding": {"x": {"field": "x1", "type": "quantitative", "axis": null}, "y": {"field": "y", "type": "quantitative", "axis": null}, "text": {"field": "gate"}}},
          {"data": {"values": [{"letter": "I"}]}, "mark": {"type": "text", "align": "left", "baseline": "alphabetic", "fontSize": 24, "fontWeight": "bold", "color": "#000"},
           "encoding": {"x": {"datum": -35, "type": "quantitative", "axis": null}, "y": {"datum": 1020, "type": "quantitative", "axis": null}, "text": {"field": "letter"}}},
          {"data": {"values": [{"name": "Zaprinast"}]}, "mark": {"type": "text", "align": "center", "baseline": "alphabetic", "fontSize": 25},
           "encoding": {"x": {"datum": 130, "type": "quantitative", "axis": null}, "y": {"datum": 1046, "type": "quantitative", "axis": null}, "text": {"field": "name"}}},
          {"data": {"values": [{"unit": "x1000"}]}, "mark": {"type": "text", "align": "right", "baseline": "bottom", "fontSize": 7, "color": "#333"},
           "encoding": {"x": {"datum": 257, "type": "quantitative", "axis": null}, "y": {"datum": -114, "type": "quantitative", "axis": null}, "text": {"field": "unit"}}}
        ], "resolve": {"axis": {"x": "independent", "y": "independent"}}},
        {"data": {"name": "stats"}, "transform": [{"filter": "datum.panel === 'I'"}], "layer": [
          {"mark": {"type": "text", "align": "left", "fontSize": 23},
           "encoding": {"x": {"datum": 149, "type": "quantitative", "axis": null}, "y": {"field": "line", "type": "ordinal", "scale": {"domain": [1, 2, 3, 4, 5, 6, 7]}, "axis": null}, "text": {"field": "label"}}},
          {"mark": {"type": "text", "align": "right", "fontSize": 23},
           "encoding": {"x": {"datum": 237, "type": "quantitative", "axis": null}, "y": {"field": "line", "type": "ordinal", "axis": null}, "text": {"field": "value"}}}
        ]}
      ],
      "resolve": {"scale": {"y": "independent"}}
    }
  ]
}
